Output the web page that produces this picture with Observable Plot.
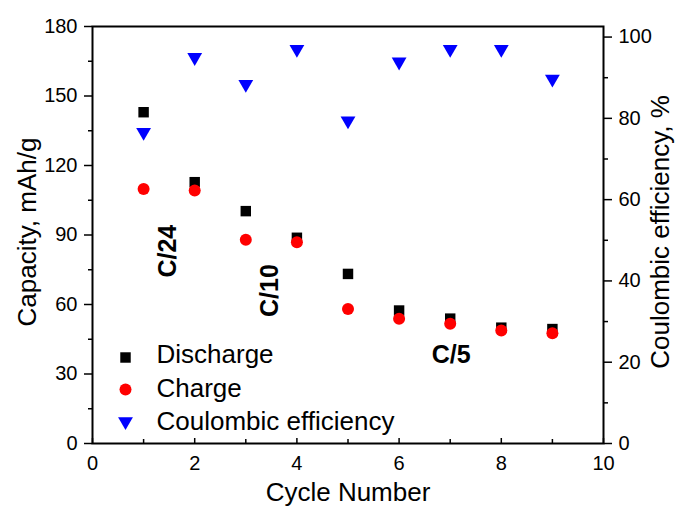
<!DOCTYPE html>
<html><head><meta charset="utf-8">
<script src="https://cdn.jsdelivr.net/npm/d3@7"></script>
<script src="https://cdn.jsdelivr.net/npm/@observablehq/plot@0.6"></script>
<style>
body{margin:0;overflow:hidden;background:#fff;}
#chart{position:relative;width:678px;height:512px;}
#chart svg{position:absolute;left:0;top:0;}
</style></head><body><div id="chart"></div>
<script>
// ---- data ----
const cycles = [1, 2, 3, 4, 5, 6, 7, 8, 9];
const discharge = [143, 112.8, 100.3, 88.8, 73.2, 57.4, 53.9, 50, 49.4];
const charge = [109.9, 109.2, 88, 86.9, 58.1, 53.8, 51.7, 48.8, 47.6];
const coulombic = [76.6, 95, 88.4, 97, 79.4, 93.9, 97, 97, 89.7];
const capacityTicks = [0, 30, 60, 90, 120, 150, 180];
const efficiencyTicks = [0, 20, 40, 60, 80, 100];
const efficiencyAxisMax = 102.6;
const cycleTicks = [0, 2, 4, 6, 8, 10];
const rateLabels = ["C/24", "C/10", "C/5"];
const rateCycle = [1.48, 3.48, 7.02];
const rateCapacity = [83, 66, 38];
const legendLabels = ["Discharge", "Charge", "Coulombic efficiency"];

// ---- layout ----
const W = 678, H = 512, mt = 26, mb = 69, ml = 92, mr = 75;
const font = "'Liberation Sans', Arial, sans-serif";
const rows = cycles.map((c, i) => ({cycle: c, discharge: discharge[i], charge: charge[i], ce: coulombic[i]}));
const mids = t => d3.pairs(t).map(([a, b]) => (a + b) / 2);
const blank = () => "";
const common = {
  width: W, height: H, marginTop: mt, marginBottom: mb, marginLeft: ml, marginRight: mr,
  x: {domain: [0, 10]},
  style: {fontFamily: font, color: "#000", background: "transparent", overflow: "visible"}
};
const txt = {fill: "#000", textAnchor: "middle", lineAnchor: "middle"};

const main = Plot.plot({
  ...common,
  y: {domain: [0, 180]},
  marks: [
    Plot.axisY({ticks: capacityTicks, tickSize: 8, tickPadding: 7, fontSize: 20, label: null, strokeWidth: 1.5}),
    Plot.axisY({ticks: mids(capacityTicks), tickSize: 4, tickFormat: blank, label: null, strokeWidth: 1.5}),
    Plot.axisX({ticks: cycleTicks, tickSize: 0, tickPadding: 12, fontSize: 20, label: null}),
    Plot.axisX({ticks: cycleTicks, tickSize: -5, tickFormat: blank, label: null, strokeWidth: 1.5}),
    Plot.axisX({ticks: mids(cycleTicks), tickSize: -4, tickFormat: blank, label: null, strokeWidth: 1.5}),
    Plot.frame({stroke: "#000", strokeWidth: 2}),
    Plot.dot(rows, {x: "cycle", y: "discharge", symbol: "square", r: 5.9, fill: "#000"}),
    Plot.dot(rows, {x: "cycle", y: "charge", symbol: "circle", r: 6, fill: "#ff0000"}),
    Plot.text([0, 1], {...txt, x: i => rateCycle[i], y: i => rateCapacity[i], text: i => rateLabels[i], rotate: -90, fontWeight: "bold", fontSize: 25}),
    Plot.text([2], {...txt, x: i => rateCycle[i], y: i => rateCapacity[i], text: i => rateLabels[i], fontWeight: "bold", fontSize: 25}),
    Plot.text(["Capacity, mAh/g"], {...txt, frameAnchor: "left", dx: -65, dy: -3, rotate: -90, fontSize: 26}),
    Plot.text(["Coulombic efficiency, %"], {...txt, frameAnchor: "right", dx: 57, dy: -3, rotate: -90, fontSize: 26}),
    Plot.text(["Cycle Number"], {...txt, frameAnchor: "bottom", dy: 49, fontSize: 26}),
    // legend
    Plot.dot([0], {x: null, y: null, frameAnchor: "bottom-left", dx: 33, dy: -86, symbol: "square", r: 5.9, fill: "#000"}),
    Plot.dot([0], {x: null, y: null, frameAnchor: "bottom-left", dx: 33, dy: -54, symbol: "circle", r: 6, fill: "#ff0000"}),
    Plot.dot([0], {x: null, y: null, frameAnchor: "bottom-left", dx: 33, dy: -22, symbol: "triangle", rotate: 180, r: 5.5, fill: "#0000ff"}),
    Plot.text([legendLabels[0]], {...txt, frameAnchor: "bottom-left", dx: 64, dy: -89, textAnchor: "start", fontSize: 26}),
    Plot.text([legendLabels[1]], {...txt, frameAnchor: "bottom-left", dx: 64, dy: -55, textAnchor: "start", fontSize: 26}),
    Plot.text([legendLabels[2]], {...txt, frameAnchor: "bottom-left", dx: 64, dy: -22, textAnchor: "start", fontSize: 26})
  ]
});

const ce = Plot.plot({
  ...common,
  y: {domain: [0, efficiencyAxisMax]},
  marks: [
    Plot.axisY({anchor: "right", ticks: efficiencyTicks, tickSize: 8, tickPadding: 7, fontSize: 20, label: null, strokeWidth: 1.5}),
    Plot.axisY({anchor: "right", ticks: mids(efficiencyTicks), tickSize: 4, tickFormat: blank, label: null, strokeWidth: 1.5}),
    Plot.axisX({ticks: [], label: null}),
    Plot.dot(rows, {x: "cycle", y: "ce", symbol: "triangle", rotate: 180, r: 5.5, fill: "#0000ff"})
  ]
});

const el = document.getElementById("chart");
el.appendChild(main);
el.appendChild(ce);
</script></body></html>
